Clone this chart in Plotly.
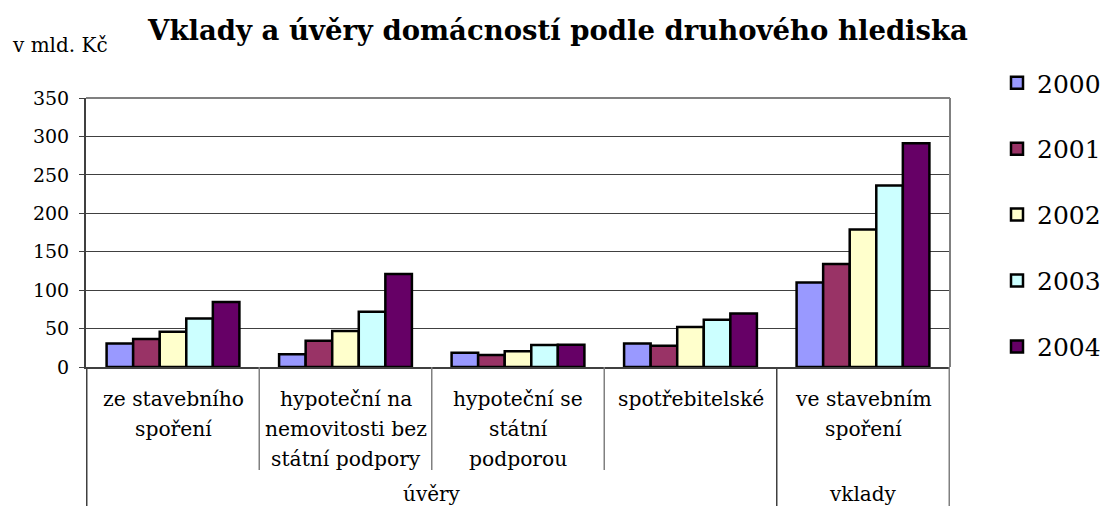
import plotly.graph_objects as go

# ---- data ----
categories = ["ze stavebního spoření",
              "hypoteční na nemovitosti bez státní podpory",
              "hypoteční se státní podporou",
              "spotřebitelské",
              "ve stavebním spoření"]
category_lines = [["ze stavebního", "spoření"],
                  ["hypoteční na", "nemovitosti bez", "státní podpory"],
                  ["hypoteční se", "státní", "podporou"],
                  ["spotřebitelské"],
                  ["ve stavebním", "spoření"]]
groups = ["úvěry", "úvěry", "úvěry", "úvěry", "vklady"]
years = ["2000", "2001", "2002", "2003", "2004"]
v2000 = [30.5, 16.5, 18.5, 30.5, 110]
v2001 = [36.5, 34, 15.5, 27.5, 134]
v2002 = [46, 47, 20.5, 52, 179]
v2003 = [63, 72, 28.5, 61.5, 236]
v2004 = [84.5, 121, 29, 69.5, 291]
series = [v2000, v2001, v2002, v2003, v2004]
colors = ["#9999FF", "#993366", "#FFFFCC", "#CCFFFF", "#660066"]
y_ticks = [0, 50, 100, 150, 200, 250, 300, 350]

title = "Vklady a úvěry domácností podle druhového hlediska"
unit_label = "v mld. Kč"
FONT = "DejaVu Serif"

fig = go.Figure()
for yr, vals, col in zip(years, series, colors):
    fig.add_trace(go.Bar(
        x=categories, y=vals, name=yr, legendgroup=yr,
        marker=dict(color=col, line=dict(color="black", width=2.5)),
    ))

# the page has an 8px body margin: size the figure so it fits without overflow
W, H = 1092, 498
L, T = 78, 90
plot_w, plot_h = 864, 269
R = W - L - plot_w
B = H - T - plot_h

fig.update_layout(
    width=W, height=H,
    margin=dict(l=L, r=R, t=T, b=B, pad=0, autoexpand=False),
    paper_bgcolor="white", plot_bgcolor="white",
    barmode="group", bargap=0.23, bargroupgap=0,
    font=dict(family=FONT, color="black"),
    showlegend=True,
    legend=dict(x=(989 - L) / plot_w, y=1.141, xanchor="left", yanchor="top",
                font=dict(size=25, family=FONT), tracegroupgap=30.4,
                traceorder="grouped", itemwidth=30, maxheight=440,
                bgcolor="rgba(0,0,0,0)"),
    title=dict(text="<b>" + title + "</b>", x=550 / W, xanchor="center",
               y=1 - 22 / H, yanchor="middle",
               font=dict(size=27.5, family=FONT, color="black")),
)

fig.update_yaxes(range=[0, 350], tickvals=y_ticks, showgrid=True,
                 gridcolor="#404040", gridwidth=1,
                 showline=True, linecolor="#404040", linewidth=2,
                 ticks="outside", ticklen=5, tickcolor="#404040",
                 ticklabelstandoff=6,
                 tickfont=dict(size=19, family=FONT), zeroline=False)
fig.update_xaxes(showticklabels=False, showline=True, linecolor="#404040",
                 linewidth=1.5, ticks="", showgrid=False)

# plot border (top / right)
fig.add_shape(type="line", xref="paper", yref="paper", x0=0, x1=1, y0=1, y1=1,
              line=dict(color="#808080", width=2))
fig.add_shape(type="line", xref="paper", yref="paper", x0=1, x1=1, y0=0, y1=1,
              line=dict(color="#808080", width=2))

# category labels
for i, lines in enumerate(category_lines):
    for j, ln in enumerate(lines):
        fig.add_annotation(x=categories[i], xref="x", y=0, yref="paper",
                           text=ln, showarrow=False, yanchor="middle",
                           yshift=-(32 + 30 * j),
                           font=dict(size=20.3, family=FONT))

# inner dividers between categories
inner_bottom = -103 / plot_h
outer_bottom = -(B + 10) / plot_h
group_starts = [i for i in range(len(groups)) if i == 0 or groups[i] != groups[i - 1]]
for i in range(1, len(categories)):
    if i not in group_starts:
        fig.add_shape(type="line", xref="x", yref="paper", x0=i - 0.5, x1=i - 0.5,
                      y0=0, y1=inner_bottom, line=dict(color="#808080", width=1.5))

# group labels and outer dividers
for k, s in enumerate(group_starts):
    e = (group_starts[k + 1] - 1) if k + 1 < len(group_starts) else len(groups) - 1
    fig.add_annotation(x=(s + e) / 2, xref="x", y=0, yref="paper", text=groups[s],
                       showarrow=False, yanchor="middle", yshift=-127,
                       font=dict(size=20, family=FONT))
    fig.add_shape(type="line", xref="x", yref="paper", x0=s - 0.5, x1=s - 0.5,
                  y0=0, y1=outer_bottom, line=dict(color="#404040", width=1.5))
fig.add_shape(type="line", xref="x", yref="paper", x0=len(groups) - 0.5,
              x1=len(groups) - 0.5, y0=0, y1=outer_bottom,
              line=dict(color="#808080", width=1.5))

fig.add_annotation(text=unit_label, xref="paper", yref="paper", x=-(L - 2) / plot_w,
                   xanchor="left", y=1 + (T - 37) / plot_h, yanchor="middle",
                   showarrow=False, font=dict(size=20, family=FONT))

fig.write_html("out.html")
